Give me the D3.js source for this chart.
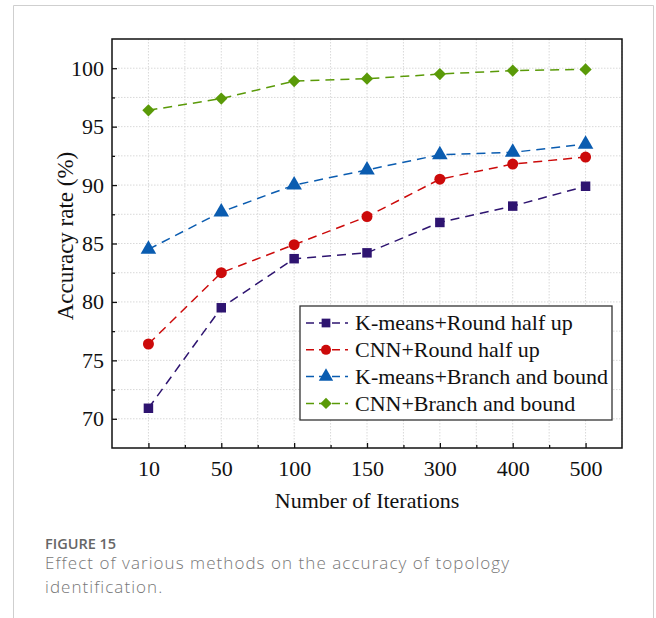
<!DOCTYPE html>
<html><head><meta charset="utf-8">
<script src="https://cdn.jsdelivr.net/npm/d3@7"></script>
<style>
html,body{margin:0;padding:0;background:#fff;}
svg{display:block;}
</style></head>
<body>
<svg id="chart" width="656" height="618"></svg>
<script>
const categories = ["10","50","100","150","300","400","500"];
const seriesNames = ["K-means+Round half up","CNN+Round half up","K-means+Branch and bound","CNN+Branch and bound"];
const kmeansRound = [70.9, 79.5, 83.7, 84.2, 86.8, 88.2, 89.9];
const cnnRound    = [76.4, 82.5, 84.9, 87.3, 90.5, 91.8, 92.4];
const kmeansBB    = [84.5, 87.7, 90.0, 91.3, 92.6, 92.8, 93.5];
const cnnBB       = [96.4, 97.4, 98.9, 99.1, 99.5, 99.8, 99.9];
const yTicks = [70, 75, 80, 85, 90, 95, 100];
const xTitle = "Number of Iterations";
const yTitle = "Accuracy rate (%)";
const figLabel = "FIGURE 15";
const captionLines = ["Effect of various methods on the accuracy of topology","identification."];

const colors = ["#2e1470","#cc0a0a","#0a5cb0","#5a9a08"];
const allSeries = [kmeansRound, cnnRound, kmeansBB, cnnBB];

// marker shapes
const symSquare = d3.symbol().type(d3.symbolSquare).size(90)();
const symCircle = d3.symbol().type(d3.symbolCircle).size(95)();
const symTri = d3.symbol().type(d3.symbolTriangle).size(105)();
const symDiamond = d3.symbol().type(d3.symbolSquare).size(75)();
const shapes = [symSquare, symCircle, symTri, symDiamond];
const rotations = [0, 0, 0, 45];

const svg = d3.select("#chart");
const serif = "'Liberation Serif','Times New Roman',serif";

// card border
svg.append("path").attr("d","M13.5,640 V5.5 H653.5 V640")
  .attr("fill","none").attr("stroke","#cfcfcf").attr("stroke-width",1);

const L = 112, R = 622, T = 39, B = 448;
const x = d3.scaleLinear().domain([-0.5, 6.5]).range([L, R]);
const y = d3.scaleLinear().domain([67.5, 102.5]).range([B, T]);

const g = svg.append("g");

// grid
const gxVals = d3.range(0, 7, 0.5);
const gyVals = d3.range(70, 102.5, 2.5);
g.selectAll(".gx").data(gxVals).enter().append("line")
  .attr("x1", d=>x(d)).attr("x2", d=>x(d)).attr("y1", T).attr("y2", B)
  .attr("stroke","#d9d9d9").attr("stroke-width",1).attr("stroke-dasharray","1.5,1.5");
g.selectAll(".gy").data(gyVals).enter().append("line")
  .attr("x1", L).attr("x2", R).attr("y1", d=>y(d)).attr("y2", d=>y(d))
  .attr("stroke","#d9d9d9").attr("stroke-width",1).attr("stroke-dasharray","1.5,1.5");

// axes (inward ticks)
const yAxis = d3.axisLeft(y).tickValues(yTicks).tickSize(-5).tickPadding(8).tickFormat(d3.format("d"));
const yMinor = d3.axisLeft(y).tickValues(d3.range(72.5, 102.5, 5)).tickSize(-3).tickFormat("");
const xAxis = d3.axisBottom(x).tickValues(d3.range(0,7)).tickSize(-5).tickPadding(12).tickFormat(i=>categories[i]);
const xMinor = d3.axisBottom(x).tickValues(d3.range(0.5,6.5,1)).tickSize(-3).tickFormat("");

function styleAxis(sel){
  sel.select(".domain").remove();
  sel.selectAll("line").attr("stroke","#111").attr("stroke-width",1.3);
  sel.selectAll("text").attr("font-family",serif).attr("font-size",22).attr("fill","#111");
}
g.append("g").attr("transform",`translate(${L},0)`).call(yAxis).call(styleAxis);
g.append("g").attr("transform",`translate(${L},0)`).call(yMinor).call(styleAxis);
g.append("g").attr("transform",`translate(0,${B})`).call(xAxis).call(styleAxis);
g.append("g").attr("transform",`translate(0,${B})`).call(xMinor).call(styleAxis);

// frame
g.append("rect").attr("x",L).attr("y",T).attr("width",R-L).attr("height",B-T)
  .attr("fill","none").attr("stroke","#111").attr("stroke-width",1.5);

// series
const line = d3.line().x((d,i)=>x(i)).y(d=>y(d));
allSeries.forEach((vals, si) => {
  g.append("path").datum(vals).attr("d", line)
    .attr("fill","none").attr("stroke", colors[si]).attr("stroke-width",1.5)
    .attr("stroke-dasharray","9,6");
  g.selectAll(".m"+si).data(vals).enter().append("path")
    .attr("transform",(d,i)=>`translate(${x(i)},${y(d)}) rotate(${rotations[si]})`)
    .attr("d", shapes[si])
    .attr("fill", colors[si]);
});

// legend
const lg = svg.append("g");
lg.append("rect").attr("x",300).attr("y",306).attr("width",312).attr("height",114)
  .attr("fill","#fff").attr("stroke","#333").attr("stroke-width",1.3);
seriesNames.forEach((name, si) => {
  const cy = 323 + si*26.8;
  lg.append("line").attr("x1",304).attr("x2",348).attr("y1",cy).attr("y2",cy)
    .attr("stroke",colors[si]).attr("stroke-width",1.5).attr("stroke-dasharray","8,5")
    .attr("stroke-dashoffset",-2);
  lg.append("path").attr("transform",`translate(326,${cy}) scale(0.92) rotate(${rotations[si]})`)
    .attr("d", shapes[si]).attr("fill",colors[si]);
  lg.append("text").attr("x",355).attr("y",cy).attr("dy","0.34em")
    .attr("font-family",serif).attr("font-size",22).attr("fill","#111").text(name);
});

// titles
svg.append("text").attr("x",(L+R)/2).attr("y",508).attr("text-anchor","middle")
  .attr("font-family",serif).attr("font-size",22).attr("fill","#111").text(xTitle);
svg.append("text").attr("transform","translate(73,236) rotate(-90)").attr("text-anchor","middle")
  .attr("font-family",serif).attr("font-size",23).attr("fill","#111").text(yTitle);

// caption
const sans = "'Open Sans','Noto Sans',sans-serif";
svg.append("text").attr("x",45).attr("y",548.5).attr("font-family",sans).attr("font-size",14.5)
  .attr("font-weight",600).attr("fill","#666").text(figLabel);
captionLines.forEach((t,i)=>{
  svg.append("text").attr("x",45).attr("y",569 + i*23.5).attr("font-family",sans).attr("font-size",17)
    .attr("font-weight",300).attr("letter-spacing",1.05).attr("fill","#777").text(t);
});
</script>
</body></html>
